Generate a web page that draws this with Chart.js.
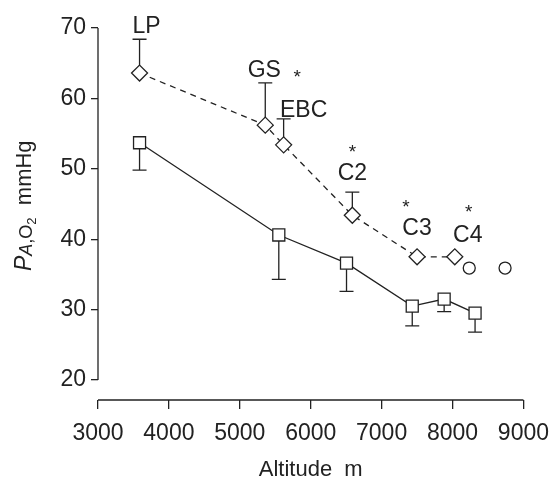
<!DOCTYPE html>
<html>
<head>
<meta charset="utf-8">
<script src="https://cdn.jsdelivr.net/npm/chart.js@4.4.0/dist/chart.umd.min.js"></script>
<style>
  html, body { margin: 0; padding: 0; background: #fff; }
  #wrap { width: 560px; height: 483px; }
</style>
</head>
<body>
<div id="wrap"><canvas id="chart" width="560" height="483"></canvas></div>
<script>
// camps on the ascent
const camps = ['LP', 'GS', 'EBC', 'C2', 'C3', 'C4'];
const significant = [false, true, false, true, true, true];

// upper (dashed) series: diamonds, SD drawn upwards
const upperAlt = [3586, 5359, 5618, 6587, 7500, 8032];
const upperPao2 = [63.6, 56.2, 53.4, 43.4, 37.5, 37.5];
const upperSd = [4.8, 6.0, 3.7, 3.3, null, null];

// lower (solid) series: squares, SD drawn downwards
const lowerAlt = [3586, 5550, 6505, 7432, 7882, 8318];
const lowerPao2 = [53.7, 40.6, 36.6, 30.5, 31.5, 29.5];
const lowerSd = [3.9, 6.3, 4.0, 2.8, 1.8, 2.7];

// single values, circles
const singleAlt = [8236, 8741];
const singlePao2 = [35.9, 35.9];

const xTicks = [3000, 4000, 5000, 6000, 7000, 8000, 9000];
const yTicks = [20, 30, 40, 50, 60, 70];

const ink = '#222';
const FONT = "'Liberation Sans', Arial, sans-serif";

function toPoints(xs, ys) {
  return xs.map((x, i) => ({ x: x, y: ys[i] }));
}

// where the camp names sit, relative to top of the SD bar (or the point)
const labelShift = [[7, -6], [-1, -6], [20, -2], [0, -12], [0, -22], [13, -15]];
const starShift = { 1: [33, -4], 3: [0, -32], 4: [-11, -32], 5: [1, -34] };

const errorBars = {
  id: 'errorBars',
  beforeDatasetsDraw(chart) {
    const x = chart.scales.x, y = chart.scales.y;
    const ctx = chart.ctx;
    ctx.save();
    ctx.strokeStyle = ink;
    ctx.lineWidth = 1.3;
    const draw = (xs, ys, sd, dir) => {
      xs.forEach((a, i) => {
        if (sd[i] == null) return;
        const px = x.getPixelForValue(a);
        const p0 = y.getPixelForValue(ys[i]);
        const p1 = y.getPixelForValue(ys[i] + dir * sd[i]);
        ctx.beginPath();
        ctx.moveTo(px, p0);
        ctx.lineTo(px, p1);
        ctx.moveTo(px - 7, p1);
        ctx.lineTo(px + 7, p1);
        ctx.stroke();
      });
    };
    draw(upperAlt, upperPao2, upperSd, 1);
    draw(lowerAlt, lowerPao2, lowerSd, -1);
    ctx.restore();
  }
};

const axesAndText = {
  id: 'axesAndText',
  afterDraw(chart) {
    const x = chart.scales.x, y = chart.scales.y;
    const area = chart.chartArea;
    const ctx = chart.ctx;
    ctx.save();
    ctx.strokeStyle = ink;
    ctx.lineWidth = 1.3;
    // detached axis lines
    ctx.beginPath();
    ctx.moveTo(area.left, y.getPixelForValue(yTicks[0]));
    ctx.lineTo(area.left, y.getPixelForValue(yTicks[yTicks.length - 1]));
    ctx.moveTo(x.getPixelForValue(xTicks[0]), area.bottom);
    ctx.lineTo(x.getPixelForValue(xTicks[xTicks.length - 1]), area.bottom);
    ctx.stroke();

    // camp labels and asterisks
    ctx.fillStyle = ink;
    ctx.textAlign = 'center';
    ctx.textBaseline = 'alphabetic';
    camps.forEach((name, i) => {
      const top = upperSd[i] == null ? upperPao2[i] : upperPao2[i] + upperSd[i];
      const lx = x.getPixelForValue(upperAlt[i]) + labelShift[i][0];
      const ly = y.getPixelForValue(top) + labelShift[i][1];
      ctx.font = '23px ' + FONT;
      ctx.fillText(name, lx, ly);
      if (significant[i]) {
        const s = starShift[i];
        ctx.font = '19px ' + FONT;
        ctx.fillText('*', lx + s[0], ly + s[1] + 10);
      }
    });

    // y axis title: PA,O2 mmHg
    ctx.translate(25, 271);
    ctx.rotate(-Math.PI / 2);
    ctx.textAlign = 'left';
    ctx.textBaseline = 'middle';
    let cx = 0;
    const part = (txt, font, dy) => {
      ctx.font = font;
      ctx.fillText(txt, cx, dy);
      cx += ctx.measureText(txt).width;
    };
    part('P', 'italic 23px ' + FONT, 0);
    part('A', 'italic 18px ' + FONT, 2);
    part(',O', '18px ' + FONT, 2);
    part('2', '13px ' + FONT, 7);
    part('  mmHg', '22px ' + FONT, 0);
    ctx.restore();
  }
};

new Chart(document.getElementById('chart'), {
  type: 'line',
  data: {
    datasets: [
      {
        data: toPoints(upperAlt, upperPao2),
        borderColor: ink,
        borderWidth: 1.3,
        borderDash: [6, 5],
        pointStyle: 'rectRot',
        pointRadius: 8,
        pointBackgroundColor: '#fff',
        pointBorderColor: ink,
        pointBorderWidth: 1.3
      },
      {
        data: toPoints(lowerAlt, lowerPao2),
        borderColor: ink,
        borderWidth: 1.3,
        pointStyle: 'rect',
        pointRadius: 8.5,
        pointBackgroundColor: '#fff',
        pointBorderColor: ink,
        pointBorderWidth: 1.3
      },
      {
        data: toPoints(singleAlt, singlePao2),
        showLine: false,
        pointStyle: 'circle',
        pointRadius: 6,
        pointBackgroundColor: '#fff',
        pointBorderColor: ink,
        pointBorderWidth: 1.3
      }
    ]
  },
  options: {
    responsive: false,
    animation: false,
    events: [],
    layout: { padding: { top: 28, right: 22, left: 0, bottom: 0 } },
    plugins: { legend: { display: false }, tooltip: { enabled: false } },
    scales: {
      x: {
        type: 'linear',
        min: 3000,
        max: 9000,
        afterBuildTicks: s => { s.ticks = xTicks.map(v => ({ value: v })); },
        afterFit: s => { s.height = 83; },
        grid: { drawOnChartArea: false, tickLength: 9, color: ink, lineWidth: 1.3 },
        border: { display: false },
        ticks: { color: ink, font: { family: FONT, size: 23 }, padding: 11, maxRotation: 0, callback: v => String(v) },
        title: { display: true, text: 'Altitude  m', color: ink, font: { family: FONT, size: 22 }, padding: { top: 4, bottom: 0 } }
      },
      y: {
        min: 17.16,
        max: 70,
        afterBuildTicks: s => { s.ticks = yTicks.map(v => ({ value: v })); },
        afterFit: s => { s.width = 98; },
        grid: { drawOnChartArea: false, tickLength: 7, color: ink, lineWidth: 1.3 },
        border: { display: false },
        ticks: { color: ink, font: { family: FONT, size: 23 }, padding: 5, callback: v => String(v) }
      }
    }
  },
  plugins: [errorBars, axesAndText]
});
</script>
</body>
</html>
